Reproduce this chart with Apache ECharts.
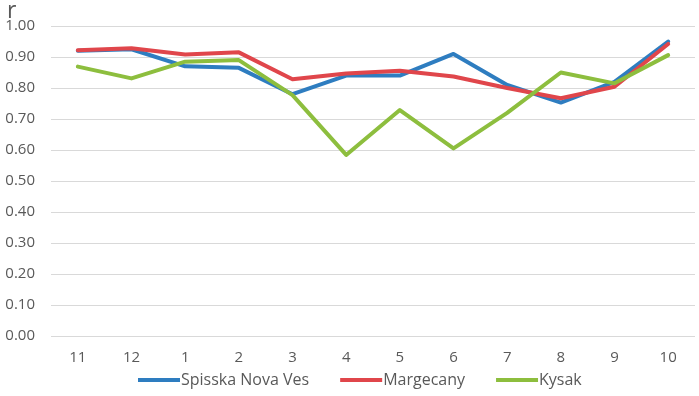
<!DOCTYPE html>
<html><head><meta charset="utf-8">
<script src="https://cdn.jsdelivr.net/npm/echarts@6/dist/echarts.min.js"></script>
<style>html,body{margin:0;padding:0;background:#fff}#c{width:699px;height:396px}</style>
</head><body><div id="c"></div>
<script>
const categories = ['11','12','1','2','3','4','5','6','7','8','9','10'];
const spisska = [0.92,0.925,0.87,0.865,0.78,0.84,0.84,0.91,0.81,0.753,0.82,0.95];
const margecany = [0.922,0.928,0.908,0.915,0.828,0.847,0.856,0.837,0.80,0.767,0.804,0.942];
const kysak = [0.869,0.831,0.885,0.89,0.777,0.584,0.729,0.605,0.72,0.85,0.815,0.906];
const yTicks = [0,0.1,0.2,0.3,0.4,0.5,0.6,0.7,0.8,0.9,1.0];

const chart = echarts.init(document.getElementById('c'), null, {renderer:'canvas'});
const font = 'Open Sans';
function s(name, data, color){
  return {name, type:'line', data, symbol:'none', smooth:false,
    lineStyle:{width:4, color, cap:'round', join:'round'}, itemStyle:{color}};
}
chart.setOption({
  animation:false,
  title:{text:'r', left:2, top:-5, textStyle:{fontFamily:font, fontSize:23, fontWeight:'normal', color:'#595959'}},
  grid:{left:51, right:4, top:26, bottom:60, containLabel:false},
  legend:{bottom:3, left:133, itemWidth:42, itemHeight:4, itemGap:31,
    icon:'rect', textStyle:{fontFamily:font, fontSize:16, color:'#595959', padding:[0,0,0,-4]}},
  xAxis:{type:'category', data:categories, boundaryGap:true,
    axisLine:{show:false}, axisTick:{show:false},
    axisLabel:{fontFamily:font, fontSize:15, color:'#595959', margin:14}},
  yAxis:{type:'value', min:0, max:1, interval:0.1,
    axisLine:{show:false}, axisTick:{show:false},
    splitLine:{lineStyle:{color:'#d9d9d9', width:1}},
    axisLabel:{fontFamily:font, fontSize:15, color:'#595959', margin:16,
      formatter:v=>v.toFixed(2)}},
  series:[s('Spisska Nova Ves', spisska, '#2E7DC0'), s('Margecany', margecany, '#E0464B'), s('Kysak', kysak, '#8DBE3E')]
});
</script></body></html>
